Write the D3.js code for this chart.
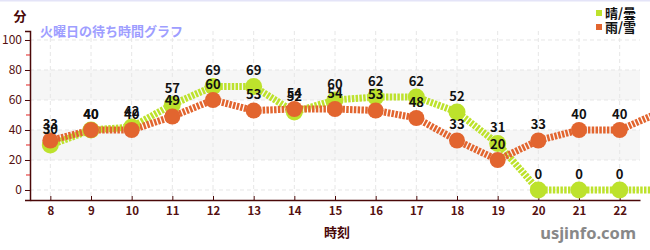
<!DOCTYPE html>
<html><head><meta charset="utf-8">
<script src="https://cdn.jsdelivr.net/npm/d3@7"></script>
<style>
html,body{margin:0;padding:0;background:#fff;}
svg{display:block;font-family:"Noto Sans CJK JP","Noto Sans",sans-serif;}
</style></head>
<body>
<svg id="c" width="650" height="250"></svg>
<script>
const hours = [8,9,10,11,12,13,14,15,16,17,18,19,20,21,22,23];
const sunny = [30,40,42,57,69,69,52,60,62,62,52,31,0,0,0,0];
const rainy = [33,40,40,49,60,53,54,54,53,48,33,20,33,40,40,52];
const xTicks = [8,9,10,11,12,13,14,15,16,17,18,19,20,21,22];
const yTicks = [0,20,40,60,80,100];
const yMinor = [10,30,50,70,90];
const bands = [[20,40],[60,80]];
const seriesNames = ["晴/曇","雨/雪"];
const colors = ["#bde22c","#e2652f"];

const svg = d3.select("#c");
const x = d3.scaleLinear().domain([7.5,22.5]).range([30,640]);
const y = d3.scaleLinear().domain([-6.67,106]).range([200,31]);
const W = 650;

svg.append("rect").attr("x",0).attr("y",0).attr("width",W).attr("height",1.5).attr("fill","#e4e4f8");

svg.selectAll(".band").data(bands).enter().append("rect")
  .attr("x",x(7.5)).attr("width",x(22.5)-x(7.5))
  .attr("y",d=>y(d[1])).attr("height",d=>y(d[0])-y(d[1]))
  .attr("fill","#f6f6f6");

svg.selectAll(".hg").data(yTicks).enter().append("line")
  .attr("x1",x(7.5)).attr("x2",x(22.5)).attr("y1",d=>y(d)).attr("y2",d=>y(d))
  .attr("stroke","#e6e6e6").attr("stroke-dasharray","4,3");
svg.selectAll(".vg").data(xTicks).enter().append("line")
  .attr("x1",d=>x(d)).attr("x2",d=>x(d)).attr("y1",y(106)).attr("y2",y(-6.67))
  .attr("stroke","#e6e6e6").attr("stroke-dasharray","4,3");

const axisColor = "#4a0808";
const ya = svg.append("g").attr("transform",`translate(${x(7.5)},0)`)
  .call(d3.axisLeft(y).tickValues(yTicks).tickSize(5).tickPadding(3));
ya.select(".domain").attr("stroke",axisColor).attr("stroke-width",1.5);
ya.selectAll(".tick line").attr("stroke",axisColor);
ya.selectAll("text").attr("fill","#551010").attr("font-size",12).attr("font-family","Noto Sans CJK JP");
svg.selectAll(".ym").data(yMinor).enter().append("line")
  .attr("x1",x(7.5)-4).attr("x2",x(7.5)).attr("y1",d=>y(d)).attr("y2",d=>y(d))
  .attr("stroke","#e02020");

const xa = svg.append("g").attr("transform",`translate(0,${y(-6.67)})`)
  .call(d3.axisBottom(x).tickValues(xTicks).tickSize(-4).tickPadding(7).tickSizeOuter(0));
xa.select(".domain").attr("stroke",axisColor).attr("stroke-width",1.5);
xa.selectAll(".tick line").attr("stroke",axisColor);
xa.selectAll("text").attr("fill","#551010").attr("font-size",11.5).attr("font-weight","bold").attr("font-family","Noto Sans CJK JP");

const series = [sunny, rainy];
const line = d3.line().x((d,i)=>x(hours[i])).y(d=>y(d));
series.forEach((s,k)=>{
  svg.append("path").datum(s).attr("d",line).attr("fill","none")
    .attr("stroke",colors[k]).attr("stroke-width",7).attr("stroke-dasharray","2.5,1.3");
});
const visible = (d,i)=>hours[i] <= 22;
series.forEach((s,k)=>{
  const pts = s.map((v,i)=>({h:hours[i],v})).filter(d=>d.h<=22);
  svg.selectAll(".pt"+k).data(pts).enter().append("circle")
    .attr("cx",d=>x(d.h)).attr("cy",d=>y(d.v)).attr("r",k===0?8.5:8)
    .attr("fill",colors[k]);
});
[1,0].forEach(k=>{
  const pts = series[k].map((v,i)=>({h:hours[i],v})).filter(d=>d.h<=22);
  svg.selectAll(".lb"+k).data(pts).enter().append("text")
    .attr("x",d=>x(d.h)).attr("y",d=>y(d.v)-11)
    .attr("text-anchor","middle").attr("font-size",13).attr("font-weight","bold")
    .attr("fill","#111").text(d=>d.v);
});

svg.append("text").attr("x",20).attr("y",21).attr("text-anchor","middle")
  .attr("font-size",13).attr("font-weight","bold").attr("fill","#4a0808").text("分");
svg.append("text").attr("x",40).attr("y",36)
  .attr("font-size",13).attr("font-weight","bold").attr("fill","#9e9eff").text("火曜日の待ち時間グラフ");
svg.append("text").attr("x",337).attr("y",237).attr("text-anchor","middle")
  .attr("font-size",13).attr("font-weight","bold").attr("fill","#4a0808").text("時刻");
svg.append("text").attr("x",636).attr("y",239).attr("text-anchor","end")
  .attr("font-size",16.5).attr("font-weight","bold").attr("fill","#888").attr("font-family","Noto Sans, sans-serif").text("usjinfo.com");

seriesNames.forEach((n,k)=>{
  svg.append("rect").attr("x",596).attr("y",10+k*14).attr("width",6).attr("height",6).attr("fill",colors[k]);
  svg.append("text").attr("x",605).attr("y",18+k*14).attr("font-size",13).attr("font-weight","bold")
    .attr("fill","#111").text(n);
});
</script>
</body></html>
